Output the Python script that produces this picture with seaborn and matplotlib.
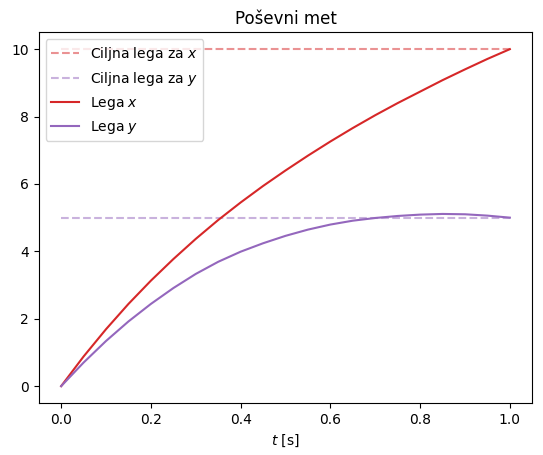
import numpy as np
import seaborn as sns
import matplotlib.pyplot as plt

t = [0.0, 0.05, 0.10, 0.15, 0.20, 0.25, 0.30, 0.35, 0.40, 0.45, 0.50,
     0.55, 0.60, 0.65, 0.70, 0.75, 0.80, 0.85, 0.90, 0.95, 1.0]
lega_x = [0.0, 0.88, 1.69, 2.44, 3.13, 3.77, 4.37, 4.93, 5.45, 5.94, 6.40,
          6.84, 7.26, 7.66, 8.04, 8.40, 8.74, 9.08, 9.40, 9.71, 10.0]
lega_y = [0.0, 0.70, 1.34, 1.92, 2.44, 2.91, 3.33, 3.69, 3.99, 4.24, 4.46,
          4.645, 4.795, 4.91, 4.99, 5.05, 5.09, 5.11, 5.10, 5.06, 5.0]
t_cilj = [0.0, 1.0]
cilj_x = [10.0, 10.0]
cilj_y = [5.0, 5.0]

fig, ax = plt.subplots(figsize=(5.43, 4.55), dpi=100)
fig.subplots_adjust(left=0.0713, right=0.9803, top=0.929, bottom=0.1143)

sns.lineplot(x=t_cilj, y=cilj_x, color='tab:red', alpha=0.5, linestyle='--',
             label='Ciljna lega za $x$', ax=ax)
sns.lineplot(x=t_cilj, y=cilj_y, color='tab:purple', alpha=0.5, linestyle='--',
             label='Ciljna lega za $y$', ax=ax)
sns.lineplot(x=t, y=lega_x, color='tab:red', label='Lega $x$', ax=ax)
sns.lineplot(x=t, y=lega_y, color='tab:purple', label='Lega $y$', ax=ax)

ax.set_title('Poševni met')
ax.set_xlabel('$t$ [s]')
ax.set_ylabel('')
ax.legend(loc='upper left')

plt.savefig('out.png')
